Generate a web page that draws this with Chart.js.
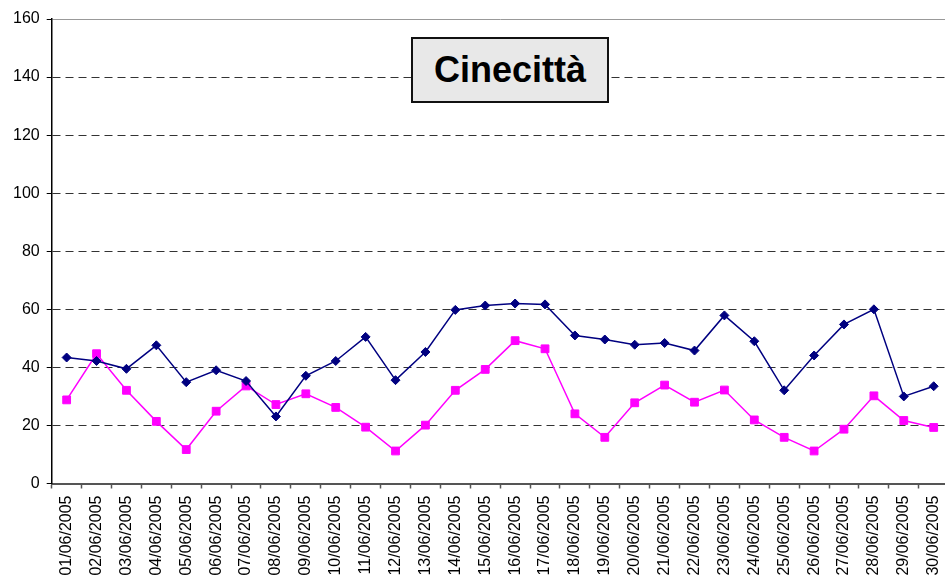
<!DOCTYPE html>
<html>
<head>
<meta charset="utf-8">
<script src="https://cdn.jsdelivr.net/npm/chart.js@4/dist/chart.umd.min.js"></script>
<style>
  html, body { margin: 0; padding: 0; background: #fff; overflow: hidden; }
  #wrap { position: relative; width: 960px; height: 575px; }
  #title {
    position: absolute; left: 411px; top: 37px; width: 198px; height: 66px;
    box-sizing: border-box; border: 2px solid #111; background: #E8E8E8;
    display: flex; align-items: center; justify-content: center;
    font-family: "Liberation Sans", Arial, sans-serif; font-weight: bold; font-size: 36px; color: #000;
  }
</style>
</head>
<body>
<div id="wrap">
  <canvas id="c" width="960" height="575"></canvas>
  <div id="title">Cinecittà</div>
</div>
<script>
const categories = [
  "01/06/2005","02/06/2005","03/06/2005","04/06/2005","05/06/2005","06/06/2005",
  "07/06/2005","08/06/2005","09/06/2005","10/06/2005","11/06/2005","12/06/2005",
  "13/06/2005","14/06/2005","15/06/2005","16/06/2005","17/06/2005","18/06/2005",
  "19/06/2005","20/06/2005","21/06/2005","22/06/2005","23/06/2005","24/06/2005",
  "25/06/2005","26/06/2005","27/06/2005","28/06/2005","29/06/2005","30/06/2005"
];
const seriesNavy = [
  43.4, 42.2, 39.5, 47.6, 34.9, 39.0, 35.3, 23.1, 37.1, 42.2,
  50.5, 35.6, 45.3, 59.8, 61.3, 62.0, 61.7, 51.0, 49.6, 47.8,
  48.4, 45.8, 57.9, 49.0, 32.1, 44.1, 54.8, 60.0, 30.0, 33.5
];
const seriesMagenta = [
  28.8, 44.7, 32.1, 21.4, 11.7, 24.9, 33.6, 27.2, 30.9, 26.2,
  19.4, 11.2, 20.1, 32.1, 39.3, 49.2, 46.4, 24.0, 15.9, 27.8,
  33.9, 28.0, 32.2, 21.9, 15.9, 11.2, 18.7, 30.2, 21.7, 19.3
];
const yMin = 0, yMax = 160, yStep = 20;

const FONT = '"Liberation Sans", Arial, sans-serif';

new Chart(document.getElementById('c'), {
  type: 'line',
  data: {
    labels: categories,
    datasets: [
      {
        data: seriesNavy,
        borderColor: '#000080', backgroundColor: '#000080',
        borderWidth: 1.5, tension: 0,
        pointStyle: 'rectRot', pointRadius: 4.5,
        pointBackgroundColor: '#000080', pointBorderColor: '#000080', pointBorderWidth: 1
      },
      {
        data: seriesMagenta,
        borderColor: '#FF00FF', backgroundColor: '#FF00FF',
        borderWidth: 1.5, tension: 0,
        pointStyle: 'rect', pointRadius: 5.5,
        pointBackgroundColor: '#FF00FF', pointBorderColor: '#FF00FF', pointBorderWidth: 1
      }
    ]
  },
  options: {
    responsive: false,
    animation: false,
    layout: { padding: { top: 19, left: 0, right: 0, bottom: 0 } },
    plugins: { legend: { display: false }, tooltip: { enabled: false } },
    scales: {
      x: {
        type: 'category',
        offset: true,
        afterFit: (s) => { s.height = 91.5; },
        grid: {
          offset: true, drawOnChartArea: false, drawTicks: true,
          tickLength: 5, tickColor: '#555', tickWidth: 1.5, tickBorderDash: []
        },
        border: { display: true, color: '#555', width: 2 },
        ticks: {
          autoSkip: false, minRotation: 90, maxRotation: 90,
          padding: 7, color: '#000',
          font: { family: FONT, size: 16 }
        }
      },
      y: {
        min: yMin, max: yMax,
        afterFit: (s) => { s.width = 51.7; },
        grid: {
          color: (ctx) => (ctx.tick && ctx.tick.value === 0) ? 'rgba(0,0,0,0)' : (ctx.tick && ctx.tick.value === 160 ? '#999' : '#333'),
          lineWidth: 1, drawTicks: true, tickLength: 5,
          tickColor: '#000', tickWidth: 1, tickBorderDash: []
        },
        border: {
          display: true, color: '#000', width: 1.5,
          dash: (ctx) => (ctx.tick && ctx.tick.value === 160) ? [] : [8, 5]
        },
        ticks: {
          stepSize: yStep, padding: 7, color: '#000',
          font: { family: FONT, size: 16 }
        }
      }
    }
  }
});
</script>
</body>
</html>
